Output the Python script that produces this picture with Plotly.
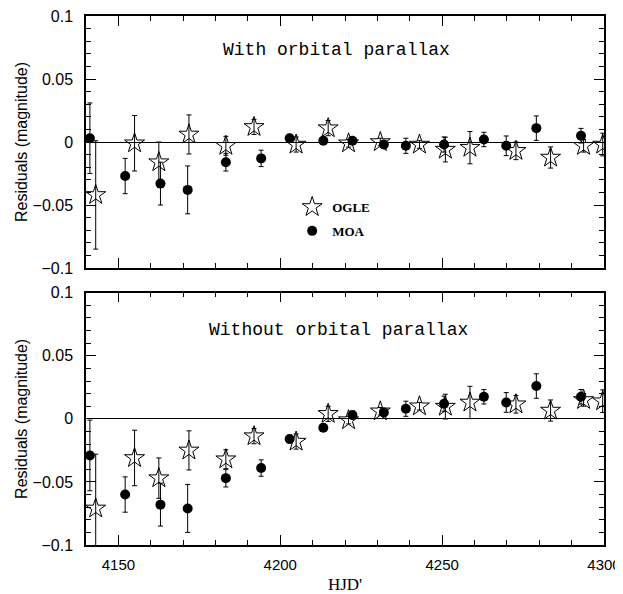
import plotly.graph_objects as go

# ---- data ----
moa_hjd = [4141.2, 4152.1, 4163.0, 4171.4, 4183.2, 4194.1, 4202.9, 4213.3, 4222.3, 4232.0,
           4238.8, 4250.6, 4262.9, 4269.8, 4279.1, 4292.9]
moa_with = [0.003, -0.027, -0.033, -0.038, -0.016, -0.013, 0.003, 0.001, 0.001, -0.002,
            -0.003, -0.002, 0.002, -0.003, 0.011, 0.005]
moa_without = [-0.029, -0.060, -0.068, -0.071, -0.047, -0.039, -0.016, -0.007, 0.003, 0.005,
               0.008, 0.012, 0.0175, 0.013, 0.026, 0.0175]
moa_err = [0.028, 0.014, 0.017, 0.019, 0.007, 0.0065, 0.003, 0.003, 0.003, 0.003,
           0.006, 0.006, 0.0057, 0.0078, 0.0097, 0.0058]

ogle_hjd = [4143.0, 4155.0, 4162.5, 4171.8, 4183.2, 4191.9, 4204.9, 4214.8, 4221.1, 4230.9,
            4243.0, 4251.0, 4258.6, 4272.8, 4283.5, 4293.7, 4299.6]
ogle_with = [-0.042, -0.001, -0.016, 0.006, -0.003, 0.012, -0.002, 0.011, -0.001, 0.000,
             -0.002, -0.006, -0.0045, -0.007, -0.0123, -0.003, -0.002]
ogle_without = [-0.071, -0.031, -0.047, -0.025, -0.032, -0.0137, -0.018, 0.004, -0.001, 0.006,
                0.010, 0.0097, 0.013, 0.0116, 0.0066, 0.015, 0.014]
ogle_err = [0.043, 0.022, 0.016, 0.0155, 0.0075, 0.006, 0.006, 0.006, 0.003, 0.003,
            0.003, 0.0098, 0.0128, 0.007, 0.0084, 0.005, 0.009]

panel_titles = ["With orbital parallax", "Without orbital parallax"]
x_range = [4140, 4300]
y_range = [-0.1, 0.1]

SANS = "Liberation Sans"
SERIF = "Liberation Serif"
MONO = "Liberation Mono"

star = dict(symbol="star-open", size=15, color="black", line=dict(color="black", width=1))
dot = dict(symbol="circle", size=10, color="black", line=dict(width=0))
def err(arr):
    return dict(type="data", array=arr, visible=True, color="black", thickness=1, width=2.5)

fig = go.Figure()
# top panel
fig.add_trace(go.Scatter(x=ogle_hjd, y=ogle_with, mode="markers", marker=star,
                         error_y=err(ogle_err), xaxis="x", yaxis="y", showlegend=False))
fig.add_trace(go.Scatter(x=moa_hjd, y=moa_with, mode="markers", marker=dot,
                         error_y=err(moa_err), xaxis="x", yaxis="y", showlegend=False))
# bottom panel
fig.add_trace(go.Scatter(x=ogle_hjd, y=ogle_without, mode="markers", marker=star,
                         error_y=err(ogle_err), xaxis="x2", yaxis="y2", showlegend=False))
fig.add_trace(go.Scatter(x=moa_hjd, y=moa_without, mode="markers", marker=dot,
                         error_y=err(moa_err), xaxis="x2", yaxis="y2", showlegend=False))
# legend entries
fig.add_trace(go.Scatter(x=[None], y=[None], mode="markers", marker=star, name="OGLE",
                         legendgroup="a", xaxis="x", yaxis="y"))
fig.add_trace(go.Scatter(x=[None], y=[None], mode="markers", marker=dot, name="MOA",
                         legendgroup="b", xaxis="x", yaxis="y"))

common_x = dict(range=x_range, showgrid=False, zeroline=False, showline=True, linecolor="black",
                linewidth=1.5, mirror="allticks", ticks="inside", ticklen=10, tickwidth=1,
                tickcolor="black", dtick=50, tick0=4150, automargin=False, ticklabeloverflow="allow",
                minor=dict(ticks="inside", ticklen=5, dtick=10, tick0=4150, tickcolor="black", tickwidth=1),
                tickfont=dict(family=SANS, size=15, color="black"))
common_y = dict(range=y_range, showgrid=False, zeroline=True, zerolinecolor="black", zerolinewidth=1,
                showline=True, linecolor="black", linewidth=1.5, mirror="allticks", ticks="inside",
                ticklen=10, tickwidth=1, tickcolor="black", dtick=0.05, tick0=0, automargin=False,
                ticklabeloverflow="allow",
                minor=dict(ticks="inside", ticklen=5, dtick=0.01, tickcolor="black", tickwidth=1),
                tickfont=dict(family=SANS, size=16, color="black"), ticklabelstandoff=8,
                title=dict(text="Residuals (magnitude)", font=dict(family=SANS, size=16, color="black"),
                           standoff=1))

# page body adds an 8px offset, so the figure starts 8px in from the top-left
fig.update_layout(
    width=623, height=586,
    margin=dict(l=78, r=27, t=8, b=49, autoexpand=False),
    paper_bgcolor="white", plot_bgcolor="white",
    xaxis=dict(common_x, anchor="y", showticklabels=False),
    yaxis=dict(common_y, domain=[0.5236, 1], anchor="x"),
    xaxis2=dict(common_x, anchor="y2", ticklabelstandoff=5,
                title=dict(text="HJD'", font=dict(family=SERIF, size=17, color="black"), standoff=6)),
    yaxis2=dict(common_y, domain=[0, 0.4769], anchor="x2"),
    legend=dict(x=0.398, y=0.6673, xanchor="left", yanchor="top", bgcolor="rgba(0,0,0,0)",
                font=dict(family=SERIF, size=13, color="black", weight="bold"),
                traceorder="grouped", tracegroupgap=4, itemwidth=30),
    showlegend=True,
    annotations=[
        dict(text=panel_titles[0], xref="paper", yref="paper", x=0.4836, y=0.9357,
             xanchor="center", yanchor="middle",
             showarrow=False, font=dict(family=MONO, size=18, color="black")),
        dict(text=panel_titles[1], xref="paper", yref="paper", x=0.4875, y=0.4064,
             xanchor="center", yanchor="middle",
             showarrow=False, font=dict(family=MONO, size=18, color="black")),
    ],
)

fig.write_html("out.html")
